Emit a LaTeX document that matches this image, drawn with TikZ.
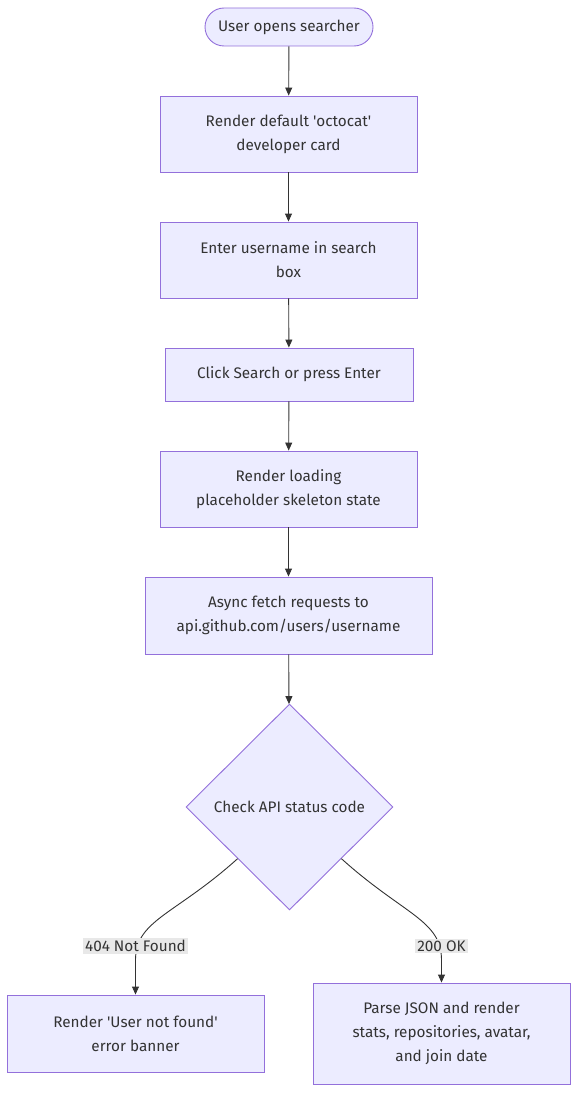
\documentclass[tikz,border=0pt]{standalone}
\usepackage{fontspec}
\setmainfont{Fira Sans}
\usetikzlibrary{arrows.meta,shapes.geometric}
\definecolor{nodefill}{HTML}{ECECFF}
\definecolor{nodeline}{HTML}{9370DB}
\definecolor{edgeline}{HTML}{333333}
\definecolor{txt}{HTML}{333333}
\definecolor{lblbg}{HTML}{E8E8E8}
\tikzset{
  base/.style={draw=nodeline, fill=nodefill, line width=0.9pt, text=txt, align=center, inner sep=0pt, font=\fontsize{15.3}{24}\selectfont},
  proc/.style={base, rectangle, minimum height=76pt},
  startbox/.style={base, rounded corners=19pt, minimum width=168pt, minimum height=38pt},
  decision/.style={base, diamond, minimum width=207pt, minimum height=206pt},
  edge/.style={draw=edgeline, line width=0.9pt, -{Triangle[length=8pt,width=7pt]}},
  elabel/.style={fill=lblbg, text=txt, inner sep=2pt, font=\fontsize{15.3}{18}\selectfont}
}
\begin{document}
\begin{tikzpicture}[x=1pt,y=-1pt]
\useasboundingbox (0,0) rectangle (586,1108);
\node[startbox] (start) at (289,27) {User opens searcher};
\node[proc, minimum width=257pt] (b1) at (288.5,134) {Render default \textquotesingle octocat\textquotesingle\\developer card};
\node[proc, minimum width=257pt] (b2) at (288.5,260) {Enter username in search\\box};
\node[proc, minimum width=248pt, minimum height=53pt] (b3) at (289,374.5) {Click Search or press Enter};
\node[proc, minimum width=257pt] (b4) at (288.5,489) {Render loading\\placeholder skeleton state};
\node[proc, minimum width=287pt, minimum height=77pt] (b5) at (288.5,615.5) {Async fetch requests to\\api.github.com/users/username};
\node[decision] (dec) at (289.5,807) {Check API status code};
\node[proc, minimum width=257pt, minimum height=77pt] (err) at (135.5,1033.5) {Render \textquotesingle User not found\textquotesingle\\error banner};
\node[proc, minimum width=257pt, minimum height=101pt] (ok) at (441.5,1033.5) {Parse JSON and render\\stats, repositories, avatar,\\and join date};
\draw[edge] (start) -- (b1);
\draw[edge] (b1) -- (b2);
\draw[edge] (b2) -- (b3);
\draw[edge] (b3) -- (b4);
\draw[edge] (b4) -- (b5);
\draw[edge] (b5) -- (dec);
\coordinate (lm) at (135.5,960);
\coordinate (rm) at (441.5,960);
\draw[edge] (dec.south west) .. controls (175,915) and (135.5,920) .. (lm) -- (err.north);
\draw[edge] (dec.south east) .. controls (404,915) and (441.5,920) .. (rm) -- (ok.north);
\node[elabel] (l404) at (135.5,946) {404 Not Found};
\node[elabel] (l200) at (441.5,946) {200 OK};
\end{tikzpicture}
\end{document}
